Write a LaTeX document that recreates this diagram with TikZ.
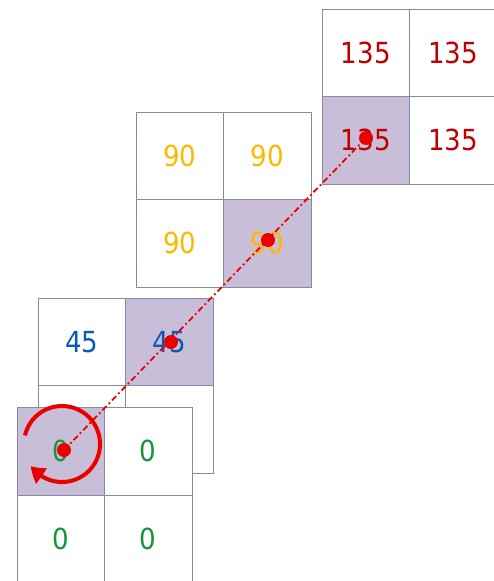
\documentclass[tikz,border=0pt]{standalone}
\usepackage{fontspec}
\setmainfont{DejaVu Sans Condensed}
\usetikzlibrary{arrows.meta,bending}
\definecolor{gridc}{RGB}{128,140,170}
\definecolor{shade}{RGB}{200,190,215}
\definecolor{cgreen}{RGB}{20,150,60}
\definecolor{cblue}{RGB}{10,90,180}
\definecolor{corange}{RGB}{255,184,0}
\definecolor{cred}{RGB}{192,0,0}
\definecolor{dotred}{RGB}{235,0,0}
\tikzset{
  cell/.style={draw=gridc, line width=0.8pt, fill=white, minimum width=87.5pt, minimum height=87.5pt, inner sep=0pt, font=\fontsize{29}{30}\selectfont},
  dot/.style={circle, fill=dotred, minimum size=14pt, inner sep=0pt},
  dashdotline/.style={draw=dotred, line width=1.8pt, dash pattern=on 6pt off 3pt on 1.8pt off 3pt},
  rotarrow/.style={draw=dotred, line width=4pt, -{Triangle[length=15pt,width=18pt,bend]}}
}
\begin{document}
\begin{tikzpicture}[x=1pt,y=-1pt]
\useasboundingbox (0,0) rectangle (494,581);
\clip (0,0) rectangle (494,581);
% grid 135
\node[cell,text=cred] (a1) at (365.75,52.75) {135};
\node[cell,text=cred] (a2) at (453.25,52.75) {135};
\node[cell,text=cred,fill=shade] (a3) at (365.75,140.25) {135};
\node[cell,text=cred] (a4) at (453.25,140.25) {135};
% grid 90
\node[cell,text=corange] (b1) at (179.75,155.75) {90};
\node[cell,text=corange] (b2) at (267.25,155.75) {90};
\node[cell,text=corange] (b3) at (179.75,243.25) {90};
\node[cell,text=corange,fill=shade] (b4) at (267.25,243.25) {90};
% grid 45
\node[cell,text=cblue] (c1) at (81.75,341.75) {45};
\node[cell,text=cblue,fill=shade] (c2) at (169.25,341.75) {45};
\node[cell] (c3) at (81.75,429.25) {};
\node[cell] (c4) at (169.25,429.25) {};
% grid 0
\node[cell,text=cgreen,fill=shade] (e1) at (60.75,451.25) {0};
\node[cell,text=cgreen] (e2) at (148.25,451.25) {0};
\node[cell,text=cgreen] (e3) at (60.75,538.75) {0};
\node[cell,text=cgreen] (e4) at (148.25,538.75) {0};
% line and dots
\coordinate (p0) at (64,450);
\coordinate (p45) at (171,342);
\coordinate (p90) at (268,240);
\coordinate (p135) at (366,138);
\draw[dashdotline] (p0) -- (p135);
\node[dot] (d0) at (p0) {};
\node[dot] (d45) at (p45) {};
\node[dot] (d90) at (p90) {};
\node[dot] (d135) at (p135) {};
% rotation arrow
\coordinate (rc) at (62,444);
\draw[rotarrow] (rc) ++(193:38) arc[start angle=193, end angle=505, radius=38];
\end{tikzpicture}
\end{document}
